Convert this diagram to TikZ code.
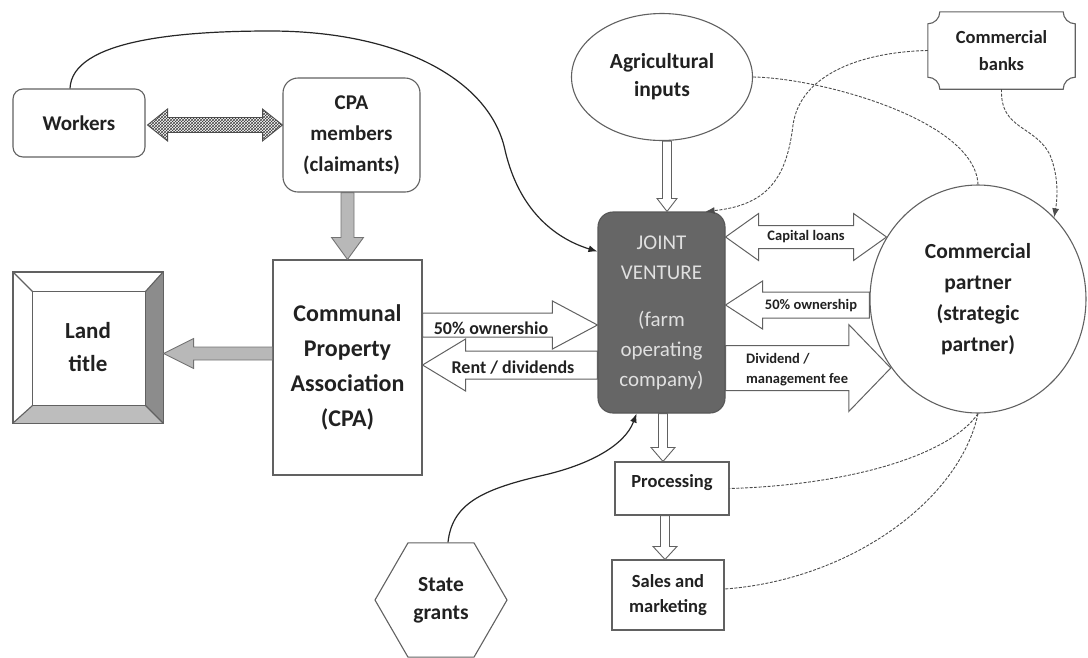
\documentclass[tikz,border=0pt]{standalone}
\usepackage{fontspec}
\setmainfont{Carlito}
\usetikzlibrary{shapes.geometric,arrows.meta,patterns,calc}

\definecolor{linegray}{gray}{0.38}
\definecolor{txt}{gray}{0.13}
\definecolor{jvfill}{gray}{0.40}
\definecolor{jvtext}{gray}{0.88}
\definecolor{fatgray}{gray}{0.72}
\definecolor{bevdark}{gray}{0.55}
\definecolor{bevlight}{gray}{0.74}

% block arrow from #2 to #3: shaft half-width #4, head half-width #5, head length #6
\newcommand\blockarrow[6][]{%
  \coordinate (bA) at (#2);
  \coordinate (bB) at (#3);
  \coordinate (bH) at ($(bB)!#6!(bA)$);
  \draw[#1] ($(bA)!#4!90:(bB)$) -- ($(bH)!#4!90:(bB)$) -- ($(bH)!#5!90:(bB)$) -- (bB)
    -- ($(bH)!#5!-90:(bB)$) -- ($(bH)!#4!-90:(bB)$) -- ($(bA)!#4!-90:(bB)$) -- cycle;}
% same, with a head at both ends
\newcommand\dblockarrow[6][]{%
  \coordinate (bA) at (#2);
  \coordinate (bB) at (#3);
  \coordinate (bH) at ($(bB)!#6!(bA)$);
  \coordinate (bG) at ($(bA)!#6!(bB)$);
  \draw[#1] (bA) -- ($(bG)!#5!90:(bB)$) -- ($(bG)!#4!90:(bB)$) -- ($(bH)!#4!90:(bB)$)
    -- ($(bH)!#5!90:(bB)$) -- (bB) -- ($(bH)!#5!-90:(bB)$) -- ($(bH)!#4!-90:(bB)$)
    -- ($(bG)!#4!-90:(bB)$) -- ($(bG)!#5!-90:(bB)$) -- cycle;}

\begin{document}
\begin{tikzpicture}[x=1pt,y=-1pt,
  outl/.style={draw=linegray, line width=1.1pt},
  box/.style={outl, align=center, text=txt, inner sep=2pt},
  fatarr/.style={draw=black!55, fill=fatgray, line width=0.9pt},
  openarr/.style={draw=linegray, line width=1pt},
  thinarr/.style={draw=linegray, fill=white, line width=0.9pt},
  hatch/.style={draw=black!70, line width=0.9pt, pattern=crosshatch, pattern color=black!75},
  dotline/.style={draw=black!70, line width=0.9pt, dash pattern=on 3pt off 1.5pt},
  curve/.style={draw=black!85, line width=1.2pt},
  arrowend/.style={-{Latex[length=9pt,width=7pt]}},
  lbl/.style={text=txt, font=\bfseries\fontsize{18}{22}\selectfont, inner sep=1pt},
  slbl/.style={text=txt, font=\bfseries\fontsize{14.5}{20}\selectfont, inner sep=1pt}]

\useasboundingbox (0,0) rectangle (1088,657);

% ---- nodes ----
\node[box, rounded corners=10pt, minimum width=132pt, minimum height=68pt,
  font=\bfseries\fontsize{21}{26}\selectfont] (workers) at (79,123) {Workers};
\node[box, rounded corners=15pt, minimum width=137pt, minimum height=114pt,
  font=\bfseries\fontsize{21}{31}\selectfont] (cpam) at (351.5,135) {CPA\\members\\(claimants)};
\node[box, minimum width=149pt, minimum height=215pt,
  font=\bfseries\fontsize{24}{35}\selectfont] (cpa) at (347.5,367.5)
  {Communal\\Property\\Association\\(CPA)};
\node[box, minimum width=150pt, minimum height=151pt,
  font=\bfseries\fontsize{23}{33}\selectfont] (land) at (88,347.5) {Land\\title};
\node[box, rounded corners=15pt, fill=jvfill, draw=jvfill!85!black, text=jvtext,
  minimum width=127pt, minimum height=201pt,
  font=\fontsize{21}{30}\selectfont] (jv) at (661.5,312.5)
  {JOINT\\VENTURE\\[17pt](farm\\operating\\company)};
\node[box, ellipse, minimum width=181pt, minimum height=127pt,
  font=\bfseries\fontsize{21.5}{28}\selectfont] (ag) at (662,77) {Agricultural\\inputs};
\node[box, ellipse, minimum width=216pt, minimum height=228pt,
  font=\bfseries\fontsize{21.5}{31}\selectfont] (partner) at (978,299)
  {Commercial\\partner\\(strategic\\partner)};
\node[align=center, text=txt, minimum width=147pt, minimum height=77pt,
  font=\bfseries\fontsize{18.5}{27}\selectfont] (banks) at (1001.5,50.5) {Commercial\\banks};
\node[box, minimum width=114pt, minimum height=53pt, text height=12pt, text depth=14pt,
  font=\bfseries\fontsize{18.5}{22}\selectfont] (proc) at (672,488.5) {Processing};
\node[box, minimum width=112pt, minimum height=70pt,
  font=\bfseries\fontsize{18.5}{25}\selectfont] (sales) at (668,595) {Sales and\\marketing};
\node[box, regular polygon, regular polygon sides=6, minimum size=132pt, inner sep=0pt,
  font=\bfseries\fontsize{21.5}{28}\selectfont] (grants) at (441,600) {State\\grants};

% ---- plaque outline of the banks node ----
\draw[outl] ($(banks.north west)+(12,0)$) -- ($(banks.north east)+(-12,0)$)
  arc[start angle=180, end angle=270, radius=12pt]
  -- ($(banks.south east)+(0,-12)$) arc[start angle=90, end angle=180, radius=12pt]
  -- ($(banks.south west)+(12,0)$) arc[start angle=0, end angle=90, radius=12pt]
  -- ($(banks.north west)+(0,12)$) arc[start angle=270, end angle=360, radius=12pt] -- cycle;

% ---- bevelled frame of the land title ----
\coordinate (lt1) at ($(land.north west)+(20,20)$);
\coordinate (lt2) at ($(land.north east)+(-18,20)$);
\coordinate (lt3) at ($(land.south east)+(-18,-18)$);
\coordinate (lt4) at ($(land.south west)+(20,-18)$);
\fill[bevdark] (land.north east) -- (land.south east) -- (lt3) -- (lt2) -- cycle;
\fill[bevlight] (land.south west) -- (land.south east) -- (lt3) -- (lt4) -- cycle;
\draw[outl] (land.north west) rectangle (land.south east);
\draw[outl] (lt1) rectangle (lt3);
\draw[outl] (land.north west) -- (lt1) (land.north east) -- (lt2)
  (land.south east) -- (lt3) (land.south west) -- (lt4);

% ---- block arrows ----
\dblockarrow[hatch]{$(workers.east)+(2,2)$}{cpam.west |- bA}{7.5pt}{16pt}{20pt}
\coordinate (c1) at (cpa.north |- cpam.south);
\blockarrow[fatarr]{c1}{cpa.north}{6.5pt}{16pt}{22pt}
\coordinate (c2) at ($(cpa.west)+(0,-14)$);
\blockarrow[fatarr]{c2}{land.east |- c2}{6.5pt}{15pt}{30pt}
\coordinate (c3) at ($(cpa.east)+(0,-42.5)$);
\blockarrow[openarr]{c3}{jv.west |- c3}{12pt}{24pt}{45pt}
\coordinate (c4) at ($(jv.west)+(0,52.5)$);
\blockarrow[openarr]{c4}{cpa.east |- c4}{14pt}{26pt}{43pt}
\coordinate (c5) at ($(jv.east)+(0,-75.5)$);
\dblockarrow[openarr]{c5}{partner.146 |- c5}{11.5pt}{23.5pt}{33pt}
\coordinate (c6) at ($(partner.west)+(0,6)$);
\blockarrow[openarr]{c6}{jv.east |- c6}{13pt}{24pt}{37pt}
\coordinate (c7) at ($(jv.east)+(0,55.5)$);
\blockarrow[openarr]{c7}{partner.218 |- c7}{22.5pt}{43.5pt}{42pt}

\coordinate (a1) at ($(ag.south)+(5,0)$);
\blockarrow[thinarr]{a1}{a1 |- jv.north}{4.5pt}{10pt}{13pt}
\coordinate (a2) at ($(jv.south)+(1.5,0)$);
\blockarrow[thinarr]{a2}{a2 |- proc.north}{4.5pt}{12pt}{14pt}
\coordinate (a3) at ($(proc.south)+(-7,0)$);
\blockarrow[thinarr]{a3}{a3 |- sales.north}{4.5pt}{12pt}{13pt}

% ---- arrow labels ----
\node[lbl] (lab1) at (491,328) {50\% ownershio};
\node[lbl] (lab2) at (513,368) {Rent / dividends};
\node[slbl] (lab3) at (806,237) {Capital loans};
\node[slbl] (lab4) at (811,306) {50\% ownership};
\node[slbl, align=left, anchor=west] (lab5) at (745,370) {Dividend /\\management fee};

% ---- solid curved links ----
\draw[curve, arrowend] ($(workers.north)+(-9,0)$) .. controls (72,40) and (180,31) .. (270,31)
  .. controls (400,31) and (490,80) .. (505,150)
  .. controls (520,215) and (560,240) .. ($(jv.north west)+(0,40)$);
\draw[curve, arrowend] ($(grants.north)+(7,0)$) .. controls (452,505) and (480,490) .. (540,476)
  .. controls (590,465) and (625,445) .. ($(jv.south)+(-25,0)$);

% ---- dashed links ----
\draw[dotline, arrowend] (banks.west) .. controls (860,52) and (800,75) .. (793,125)
  .. controls (787,175) and (770,205) .. ($(jv.north east)+(-20,0)$);
\draw[dotline] (ag.east) .. controls (820,78) and (975,120) .. (partner.north);
\draw[dotline, arrowend] (banks.south) .. controls (1000,130) and (1035,125) .. (1050,155)
  .. controls (1058,175) and (1058,195) .. (partner.47);
\draw[dotline] (partner.south) .. controls (950,455) and (850,485) .. (proc.east);
\draw[dotline] (partner.south) .. controls (960,500) and (850,580) .. ($(sales.east)+(0,-6)$);
\end{tikzpicture}
\end{document}
